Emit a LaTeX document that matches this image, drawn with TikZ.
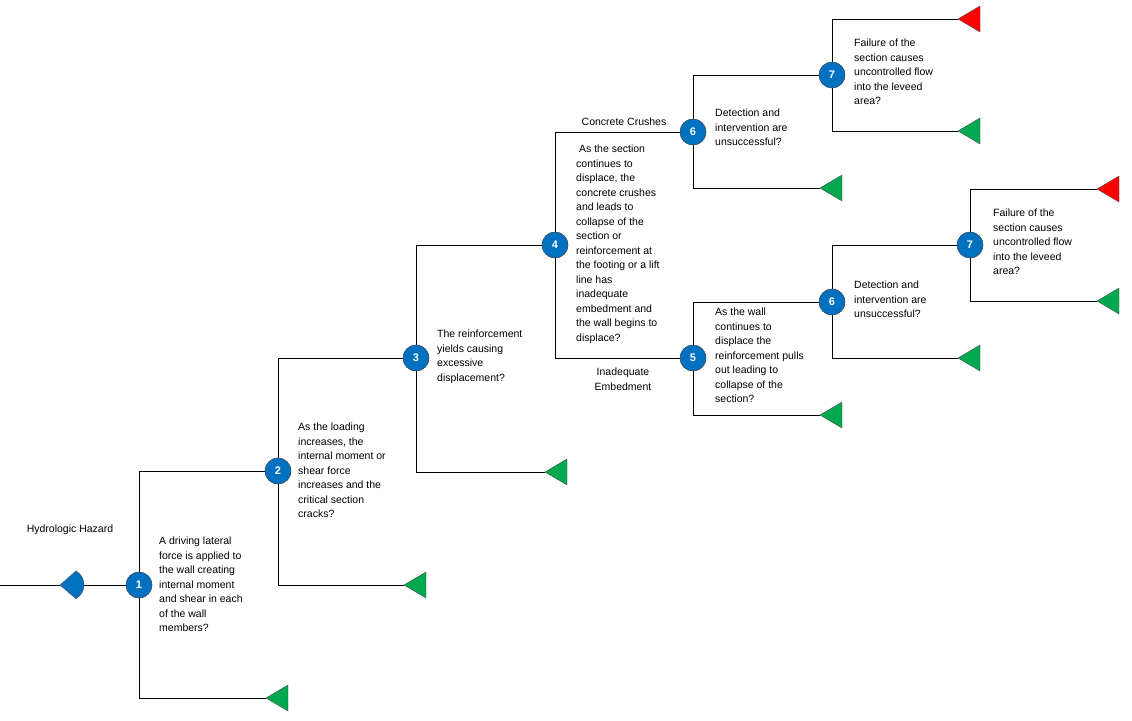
\documentclass[tikz,border=0pt]{standalone}
\usepackage{fontspec}
\setmainfont{Liberation Sans}
\begin{document}
\begin{tikzpicture}[x=1pt,y=-1pt,
  ev/.style={circle,draw=black!70,fill={rgb,255:red,0;green,112;blue,192},text=white,font=\bfseries\fontsize{11}{12}\selectfont,minimum size=26pt,inner sep=0pt},
  txt/.style={anchor=north west,align=left,inner sep=0pt,font=\fontsize{10.5}{14.5}\selectfont},
  lab/.style={inner sep=0pt,font=\fontsize{10.5}{14.5}\selectfont,align=center},
  ln/.style={draw=black,line width=0.8pt}]
\useasboundingbox (0,0) rectangle (1132,720);
\tikzset{endtri/.pic={\path[draw=black!70,fill=#1] (0,0) -- (22,-13) -- (22,13) -- cycle;}}
\colorlet{gr}{green!60!black}
\definecolor{gr}{RGB}{0,168,80}
\definecolor{rd}{RGB}{255,0,0}
% nodes
\node[ev] (n1) at (139,585) {1};
\node[ev] (n2) at (278,471) {2};
\node[ev] (n3) at (416,358) {3};
\node[ev] (n4) at (555,245) {4};
\node[ev] (n6a) at (693,132) {6};
\node[ev] (n5) at (693,358) {5};
\node[ev] (n7a) at (832,75) {7};
\node[ev] (n6b) at (832,302) {6};
\node[ev] (n7b) at (970,245) {7};
% end coordinates
\coordinate (h0) at (0,585);
\coordinate (hz) at (60,585);
\coordinate (e1) at (266,698);
\coordinate (e2) at (404,585);
\coordinate (e3) at (545,472);
\coordinate (e6a) at (820,188);
\coordinate (e7ar) at (958,19);
\coordinate (e7ag) at (958,131);
\coordinate (e5) at (820,415);
\coordinate (e6b) at (958,358);
\coordinate (e7br) at (1097,189);
\coordinate (e7bg) at (1097,301);
% hazard
\draw[ln] (h0) -- (hz);
\draw[ln] (hz) ++(22,0) -- (n1);
\path[draw=black!70,fill={rgb,255:red,0;green,112;blue,192}] (hz) -- ++(16,-14) arc[start angle=-60,end angle=60,radius=16] -- cycle;
% connectors
\draw[ln] (n1) |- (n2);
\draw[ln] (n1) |- (e1);
\draw[ln] (n2) |- (n3);
\draw[ln] (n2) |- (e2);
\draw[ln] (n3) |- (n4);
\draw[ln] (n3) |- (e3);
\draw[ln] (n4) |- (n6a);
\draw[ln] (n4) |- (n5);
\draw[ln] (n6a) |- (n7a);
\draw[ln] (n6a) |- (e6a);
\draw[ln] (n7a) |- (e7ar);
\draw[ln] (n7a) |- (e7ag);
\draw[ln] (n5) |- (n6b);
\draw[ln] (n5) |- (e5);
\draw[ln] (n6b) |- (n7b);
\draw[ln] (n6b) |- (e6b);
\draw[ln] (n7b) |- (e7br);
\draw[ln] (n7b) |- (e7bg);
% redraw event circles on top
\foreach \n/\t in {n1/1,n2/2,n3/3,n4/4,n6a/6,n5/5,n7a/7,n6b/6,n7b/7}{\node[ev] at (\n) {\t};}
% end triangles
\foreach \c in {e1,e2,e3,e6a,e7ag,e5,e6b,e7bg}{\pic at (\c) {endtri=gr};}
\foreach \c in {e7ar,e7br}{\pic at (\c) {endtri=rd};}
% texts
\node[lab] (hh) at (70,530) {Hydrologic Hazard};
\node[lab] (cc) at (624,122) {Concrete Crushes};
\node[lab] (ie) at (623,379) {Inadequate\\Embedment};
\node[txt] (t1) at (159,537) {A driving lateral\\force is applied to\\the wall creating\\internal moment\\and shear in each\\of the wall\\members?};
\node[txt] (t2) at (298,423) {As the loading\\increases, the\\internal moment or\\shear force\\increases and the\\critical section\\cracks?};
\node[txt] (t3) at (437,330) {The reinforcement\\yields causing\\excessive\\displacement?};
\node[txt] (t4) at (576,145) {\ As the section\\continues to\\displace, the\\concrete crushes\\and leads to\\collapse of the\\section or\\reinforcement at\\the footing or a lift\\line has\\inadequate\\embedment and\\the wall begins to\\displace?};
\node[txt] (t5) at (715,308) {As the wall\\continues to\\displace the\\reinforcement pulls\\out leading to\\collapse of the\\section?};
\node[txt] (t6a) at (715,109) {Detection and\\intervention are\\unsuccessful?};
\node[txt] (t7a) at (854,39) {Failure of the\\section causes\\uncontrolled flow\\into the leveed\\area?};
\node[txt] (t6b) at (854,281) {Detection and\\intervention are\\unsuccessful?};
\node[txt] (t7b) at (993,209) {Failure of the\\section causes\\uncontrolled flow\\into the leveed\\area?};
\end{tikzpicture}
\end{document}
